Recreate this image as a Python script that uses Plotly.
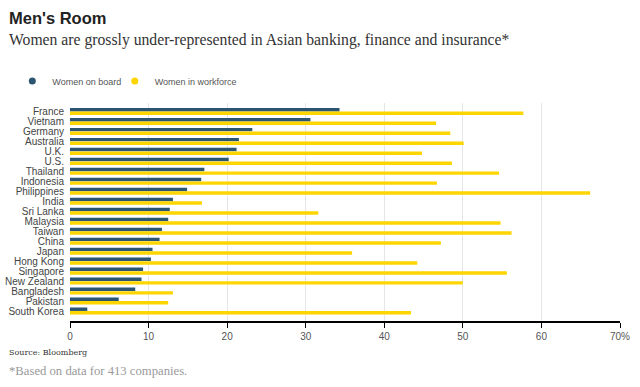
import plotly.graph_objects as go

countries = ["France", "Vietnam", "Germany", "Australia", "U.K.", "U.S.", "Thailand",
             "Indonesia", "Philippines", "India", "Sri Lanka", "Malaysia", "Taiwan", "China",
             "Japan", "Hong Kong", "Singapore", "New Zealand", "Bangladesh", "Pakistan",
             "South Korea"]
women_on_board = [34.3, 30.6, 23.2, 21.5, 21.2, 20.2, 17.1, 16.7, 14.9, 13.1, 12.7,
                  12.5, 11.7, 11.4, 10.5, 10.3, 9.3, 9.1, 8.3, 6.2, 2.2]
women_in_workforce = [57.7, 46.6, 48.4, 50.1, 44.8, 48.6, 54.6, 46.7, 66.2, 16.8, 31.6,
                      54.8, 56.2, 47.2, 35.9, 44.2, 55.6, 50.0, 13.1, 12.5, 43.4]
tick_vals = [0, 10, 20, 30, 40, 50, 60, 70]
tick_text = ["0", "10", "20", "30", "40", "50", "60", "70%"]

BLUE = "#2b5570"
YELLOW = "#fdd600"

fig = go.Figure()
fig.add_trace(go.Bar(y=countries, x=women_on_board, orientation="h", name="Women on board",
                     marker=dict(color=BLUE, line=dict(width=0)), showlegend=False))
fig.add_trace(go.Bar(y=countries, x=women_in_workforce, orientation="h", name="Women in workforce",
                     marker=dict(color=YELLOW, line=dict(width=0)), showlegend=False))
# legend entries with circle markers
fig.add_trace(go.Scatter(x=[None], y=[None], mode="markers", name="Women on board",
                         marker=dict(color=BLUE, size=7, symbol="circle"), legend="legend"))
fig.add_trace(go.Scatter(x=[None], y=[None], mode="markers", name="Women in workforce",
                         marker=dict(color=YELLOW, size=7, symbol="circle"), legend="legend2"))

W, H = 640, 387
L, R, T, B = 67, 20, 103, 66
pw, ph = W - L - R, H - T - B

def px(xp):
    return (xp - L) / pw

def py(yp):
    return (H - B - yp) / ph

legend_common = dict(orientation="h", y=py(81), xanchor="left", yanchor="middle",
                     font=dict(size=9, color="#555"), bgcolor="rgba(0,0,0,0)")

fig.update_layout(
    width=W, height=H,
    margin=dict(l=L, r=R, t=T, b=B, pad=0),
    paper_bgcolor="white", plot_bgcolor="white",
    barmode="group", bargap=0.28, bargroupgap=0.04,
    font=dict(family="Liberation Sans, Arial, sans-serif", color="#444"),
    showlegend=True,
    legend=dict(x=px(9), **legend_common),
    legend2=dict(x=px(112), **legend_common),
    xaxis=dict(range=[0, 70], tickvals=tick_vals, ticktext=tick_text, automargin=False,
               showgrid=True, gridcolor="#e6e6e6", gridwidth=1,
               showline=True, linecolor="#000", linewidth=1.5,
               ticks="outside", ticklen=5, tickcolor="#000", tickwidth=1,
               tickfont=dict(size=10, color="#555"), zeroline=False, fixedrange=True),
    yaxis=dict(range=[21.0, -0.85], type="category", showgrid=False, ticks="",
               tickmode="array", tickvals=countries, ticktext=countries, automargin=False,
               tickfont=dict(size=10, color="#444"), ticklabelstandoff=5,
               showline=False, fixedrange=True),
    annotations=[
        dict(text="<b>Men's Room</b>", xref="paper", yref="paper", x=px(4), y=py(18),
             xanchor="left", yanchor="middle", showarrow=False,
             font=dict(family="Liberation Sans, Arial, sans-serif", size=16.5, color="#222")),
        dict(text="Women are grossly under-represented in Asian banking, finance and insurance*",
             xref="paper", yref="paper", x=px(4), y=py(40), xanchor="left", yanchor="middle",
             showarrow=False,
             font=dict(family="Liberation Serif, Georgia, serif", size=15.7, color="#333")),
        dict(text="Source: Bloomberg", xref="paper", yref="paper", x=px(4), y=py(352),
             xanchor="left", yanchor="middle", showarrow=False,
             font=dict(family="DejaVu Serif, Georgia, serif", size=8, color="#333")),
        dict(text="*Based on data for 413 companies.", xref="paper", yref="paper", x=px(4),
             y=py(371), xanchor="left", yanchor="middle", showarrow=False,
             font=dict(family="Liberation Serif, Georgia, serif", size=12.7, color="#999")),
    ],
)

fig.write_html("out.html", config={"displayModeBar": False},
               post_script="document.body.style.margin='0';")
